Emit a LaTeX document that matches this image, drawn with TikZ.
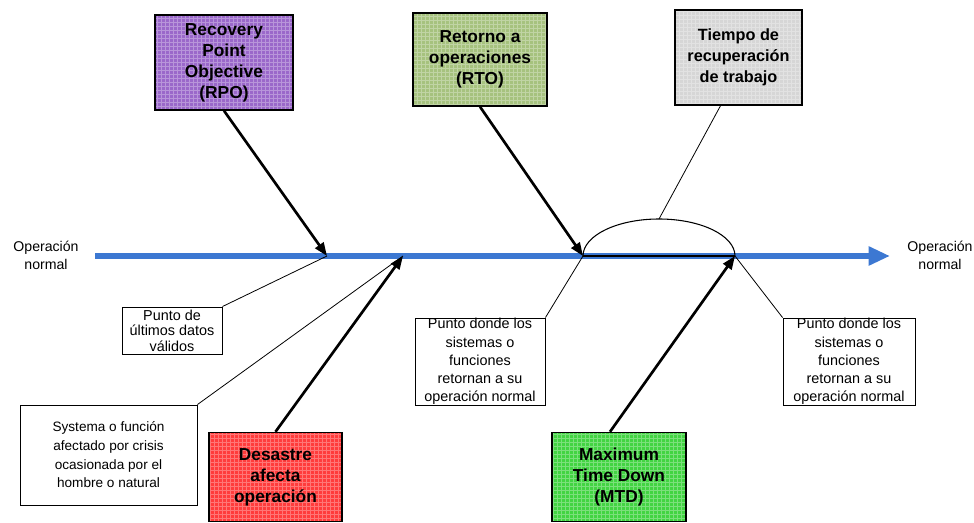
\documentclass[tikz,border=0pt]{standalone}
\usepackage{fontspec}
\setmainfont{Liberation Sans}
\usetikzlibrary{arrows.meta}
\definecolor{rpofill}{HTML}{9A68CA}
\definecolor{rtofill}{HTML}{A6C27E}
\definecolor{trfill}{HTML}{D6D6D6}
\definecolor{desfill}{HTML}{FF3C3C}
\definecolor{mtdfill}{HTML}{42D442}
\definecolor{flowblue}{HTML}{3C78D2}
\begin{document}
\begin{tikzpicture}[x=0.75pt,y=-0.75pt,
  meshed/.style={path picture={\draw[step=3pt,white,opacity=0.3,line width=0.35pt]
      (path picture bounding box.south west) grid (path picture bounding box.north east);}},
  titlebox/.style={draw=black,line width=1.1pt,meshed,inner sep=0pt,align=center,
      font=\fontsize{13}{15.8}\selectfont\bfseries},
  notebox/.style={draw=black,line width=0.7pt,fill=white,inner sep=0pt,align=center,
      font=\fontsize{10.8}{13.6}\selectfont},
  plainlabel/.style={inner sep=0pt,align=center,font=\fontsize{10.6}{13.4}\selectfont},
  heavyarrow/.style={line width=2pt,-{Triangle[length=10pt,width=7.5pt]}},
  thinlink/.style={line width=0.6pt}]
\useasboundingbox (0,0) rectangle (974,523);

% points on the main flow line
\coordinate (p1) at (327,256);
\coordinate (p2) at (403,256);
\coordinate (p3) at (583,256);
\coordinate (p4) at (735,256);
\coordinate (start) at (95,256);
\coordinate (finish) at (890,256);
\coordinate (archtop) at (659,219);

% main flow
\draw[flowblue,line width=4.2pt,-{Triangle[length=16pt,width=13.5pt]}] (start) -- (finish);
\draw[black,line width=1.5pt] (p3) -- (p4);
\draw[line width=0.8pt] (p3) arc[start angle=180,end angle=0,x radius=57pt,y radius=27.75pt];

% end labels
\node[plainlabel] (inlbl) at (46,255) {Operación\\normal};
\node[plainlabel] (outlbl) at (940,255) {Operación\\normal};

% title boxes
\node[titlebox,fill=rpofill,minimum width=103.5pt,minimum height=71.25pt] (rpo) at (224,62.5)
  {Recovery\\Point\\Objective\\(RPO)};
\node[titlebox,fill=rtofill,minimum width=100.5pt,minimum height=69.75pt] (rto) at (480,59.5)
  {Retorno a\\operaciones\\(RTO)};
\node[titlebox,fill=trfill,minimum width=95.25pt,minimum height=71.25pt,
  font=\fontsize{12.2}{15.8}\selectfont\bfseries] (trab) at (738.5,57.5)
  {Tiempo de\\recuperación\\de trabajo};
\node[titlebox,fill=desfill,minimum width=99.75pt,minimum height=66.75pt] (des) at (275.5,477)
  {Desastre\\afecta\\operación};
\node[titlebox,fill=mtdfill,minimum width=100.5pt,minimum height=66.75pt] (mtd) at (619,477)
  {Maximum\\Time Down\\(MTD)};

% note boxes
\node[notebox,minimum width=75pt,minimum height=35.25pt,
  font=\fontsize{10.8}{11.6}\selectfont] (ult) at (172,330.5)
  {Punto de\\últimos datos\\válidos};
\node[notebox,minimum width=132.75pt,minimum height=75pt,
  font=\fontsize{10.2}{14}\selectfont] (sys) at (108.5,455)
  {Systema o función\\afectado por crisis\\ocasionada por el\\hombre o natural};
\node[notebox,minimum width=97.5pt,minimum height=65.25pt] (ret1) at (480,361.5)
  {Punto donde los\\sistemas o\\funciones\\retornan a su\\operación normal};
\node[notebox,minimum width=99pt,minimum height=65.25pt] (ret2) at (849,361.5)
  {Punto donde los\\sistemas o\\funciones\\retornan a su\\operación normal};

% heavy arrows onto the flow line
\draw[heavyarrow] (rpo.south) -- (p1);
\draw[heavyarrow] (rto.south) -- (p3);
\draw[heavyarrow] (des.north) -- (p2);
\draw[heavyarrow] ([xshift=-6.75pt]mtd.north) -- (p4);

% thin leader lines
\draw[thinlink] (ult.north east) -- (p1);
\draw[thinlink] (sys.north east) -- (p2);
\draw[thinlink] (ret1.north east) -- (p3);
\draw[thinlink] (ret2.north west) -- (p4);
\draw[thinlink] (archtop) -- ([xshift=-13.5pt]trab.south);
\end{tikzpicture}
\end{document}
